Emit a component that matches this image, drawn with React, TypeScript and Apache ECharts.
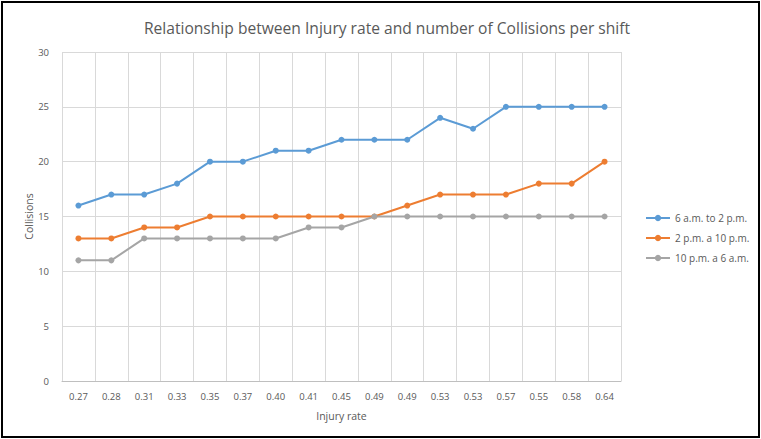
import React, { useEffect, useRef } from "react";
import * as echarts from "echarts";

const categories = ["0.27", "0.28", "0.31", "0.33", "0.35", "0.37", "0.40", "0.41", "0.45", "0.49", "0.49", "0.53", "0.53", "0.57", "0.55", "0.58", "0.64"];
const morning = [16, 17, 17, 18, 20, 20, 21, 21, 22, 22, 22, 24, 23, 25, 25, 25, 25];
const afternoon = [13, 13, 14, 14, 15, 15, 15, 15, 15, 15, 16, 17, 17, 17, 18, 18, 20];
const night = [11, 11, 13, 13, 13, 13, 13, 14, 14, 15, 15, 15, 15, 15, 15, 15, 15];
const seriesNames = ["6 a.m. to 2 p.m.", "2 p.m. a 10 p.m.", "10 p.m. a 6 a.m."];
const colors = ["#5b9bd5", "#ed7d31", "#a5a5a5"];

export default function App() {
  const ref = useRef<HTMLDivElement>(null);
  useEffect(() => {
    if (!ref.current) return;
    const chart = echarts.init(ref.current, null, { renderer: "svg" });
    const font = "'Open Sans', 'Noto Sans', sans-serif";
    const mk = (name: string, data: number[], color: string) => ({
      name,
      type: "line",
      data,
      symbol: "circle",
      symbolSize: 6,
      lineStyle: { color, width: 2 },
      itemStyle: { color },
    });
    chart.setOption({
      animation: false,
      backgroundColor: "#ffffff",
      textStyle: { fontFamily: font },
      title: {
        text: "Relationship between Injury rate and number of Collisions per shift",
        left: 382,
        textAlign: "center",
        top: 15,
        textStyle: { fontSize: 15.6, fontWeight: "normal", color: "#595959", fontFamily: font },
      },
      grid: { left: 62, top: 52, right: 140, bottom: 58, containLabel: false },
      legend: {
        orient: "vertical",
        left: 640,
        top: 208,
        itemWidth: 24,
        itemHeight: 8,
        itemGap: 10,
        textStyle: { fontSize: 10, color: "#595959", fontFamily: font },
        data: seriesNames,
      },
      xAxis: {
        type: "category",
        data: categories,
        boundaryGap: true,
        name: "Injury rate",
        nameLocation: "middle",
        nameGap: 29,
        nameMoveOverlap: false,
        nameTextStyle: { fontSize: 10.5, color: "#595959" },
        axisLine: { lineStyle: { color: "#bfbfbf", width: 1 } },
        axisTick: { show: false },
        axisLabel: { fontSize: 9.5, color: "#595959", margin: 10, interval: 0 },
        splitLine: { show: true, interval: 0, lineStyle: { color: "#d9d9d9", width: 1 } },
      },
      yAxis: {
        type: "value",
        min: 0,
        max: 30,
        interval: 5,
        name: "Collisions",
        nameLocation: "middle",
        nameGap: 28,
        nameMoveOverlap: false,
        nameTextStyle: { fontSize: 10.5, color: "#595959" },
        axisLine: { show: false },
        axisTick: { show: false },
        axisLabel: { fontSize: 9.5, color: "#595959", margin: 13 },
        splitLine: { show: true, lineStyle: { color: "#d9d9d9", width: 1 } },
      },
      series: [
        mk(seriesNames[0], morning, colors[0]),
        mk(seriesNames[1], afternoon, colors[1]),
        mk(seriesNames[2], night, colors[2]),
      ],
    });
    return () => chart.dispose();
  }, []);
  return (
    <div style={{ position: "fixed", left: 0, top: 0, width: 761, height: 439, background: "#fff" }}>
      <div
        ref={ref}
        style={{ position: "absolute", left: 0, top: 0, width: 761, height: 439 }}
      />
      <div
        style={{
          position: "absolute",
          left: 1,
          top: 1,
          width: 759,
          height: 437,
          border: "2px solid #000",
          boxSizing: "border-box",
          pointerEvents: "none",
        }}
      />
    </div>
  );
}
